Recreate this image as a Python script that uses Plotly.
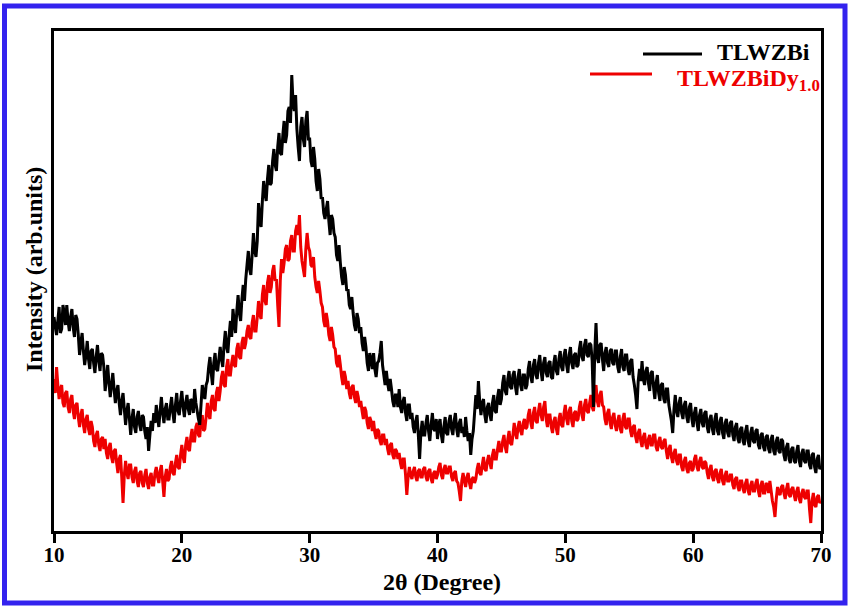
import numpy as np
import plotly.graph_objects as go

# 2-theta scan grid (degrees), 0.1 degree step from 10 to 70
two_theta = np.round(np.arange(10.0, 70.0001, 0.1), 1)

# Measured intensities (arb. units), one row per degree: x.0 ... x.9
tlwzbi = [
    214, 204, 196, 210, 224, 198, 202, 226, 218, 206,   # 10
    226, 210, 200, 214, 222, 204, 194, 216, 212, 196,   # 11
    176, 188, 198, 180, 166, 176, 190, 172, 162, 180,   # 12
    182, 168, 158, 174, 186, 170, 160, 178, 176, 164,   # 13
    140, 152, 166, 148, 134, 146, 158, 142, 128, 140,   # 14
    146, 128, 116, 130, 138, 122, 106, 120, 128, 112,   # 15
    96, 112, 122, 104, 98, 114, 120, 106, 100, 116,     # 16
    114, 100, 92, 104, 80, 96, 110, 100, 118, 108,      # 17
    126, 114, 104, 120, 134, 118, 108, 122, 128, 112,   # 18
    112, 124, 134, 118, 108, 126, 138, 120, 116, 130,   # 19
    140, 124, 114, 128, 136, 122, 116, 132, 130, 118,   # 20
    142, 128, 120, 112, 106, 126, 146, 138, 132, 146,   # 21
    150, 164, 174, 158, 146, 168, 178, 162, 160, 172,   # 22
    184, 172, 164, 186, 200, 184, 178, 196, 210, 194,   # 23
    222, 208, 198, 220, 236, 218, 210, 232, 246, 230,   # 24
    252, 266, 280, 262, 256, 276, 298, 280, 274, 290,   # 25
    328, 312, 304, 330, 350, 338, 330, 352, 366, 346,   # 26
    348, 370, 382, 366, 360, 384, 398, 378, 376, 396,   # 27
    410, 388, 396, 420, 424, 408, 456, 428, 420, 436,   # 28
    402, 384, 370, 404, 414, 392, 384, 410, 420, 392,   # 29
    392, 370, 364, 384, 372, 350, 340, 362, 352, 332,   # 30
    334, 318, 312, 322, 330, 310, 296, 316, 312, 298,   # 31
    294, 276, 270, 286, 268, 254, 246, 264, 256, 240,   # 32
    242, 226, 222, 234, 218, 206, 200, 218, 212, 198,   # 33
    204, 188, 180, 194, 184, 168, 160, 178, 172, 162,   # 34
    178, 162, 154, 168, 170, 178, 190, 166, 156, 146,   # 35
    160, 148, 140, 152, 142, 130, 124, 136, 136, 124,   # 36
    142, 124, 118, 130, 134, 118, 110, 126, 126, 112,   # 37
    118, 104, 98, 110, 116, 96, 72, 98, 110, 96,        # 38
    96, 108, 116, 100, 90, 106, 118, 102, 100, 112,     # 39
    92, 106, 112, 96, 88, 104, 114, 98, 96, 110,        # 40
    116, 102, 96, 110, 118, 102, 94, 108, 112, 98,      # 41
    104, 94, 114, 100, 90, 98, 76, 92, 100, 118,        # 42
    136, 122, 150, 130, 116, 128, 132, 116, 108, 124,   # 43
    128, 116, 110, 128, 136, 120, 118, 134, 142, 126,   # 44
    132, 148, 156, 140, 136, 152, 160, 144, 142, 156,   # 45
    160, 144, 136, 154, 162, 146, 140, 156, 156, 142,   # 46
    146, 162, 170, 154, 148, 166, 172, 156, 152, 168,   # 47
    176, 160, 150, 168, 174, 158, 154, 168, 170, 154,   # 48
    152, 168, 176, 160, 156, 172, 180, 164, 160, 176,   # 49
    182, 166, 158, 176, 184, 168, 162, 176, 178, 164,   # 50
    166, 182, 190, 174, 170, 186, 192, 176, 174, 188,   # 51
    186, 170, 124, 178, 208, 174, 168, 186, 188, 172,   # 52
    160, 178, 184, 168, 164, 180, 182, 168, 166, 180,   # 53
    180, 164, 158, 174, 182, 164, 160, 176, 176, 162,   # 54
    156, 170, 172, 154, 146, 136, 122, 150, 162, 150,   # 55
    170, 152, 146, 160, 164, 148, 140, 158, 160, 144,   # 56
    132, 148, 156, 138, 130, 146, 148, 132, 128, 142,   # 57
    142, 126, 118, 110, 98, 122, 136, 120, 114, 128,    # 58
    134, 118, 112, 126, 130, 114, 108, 124, 128, 112,   # 59
    104, 118, 124, 108, 100, 116, 122, 108, 104, 118,   # 60
    120, 104, 98, 112, 116, 102, 96, 112, 118, 100,     # 61
    96, 110, 114, 98, 92, 108, 112, 98, 94, 108,        # 62
    110, 96, 90, 104, 108, 92, 88, 102, 104, 90,        # 63
    86, 100, 106, 90, 84, 98, 104, 90, 88, 100,         # 64
    102, 86, 82, 96, 98, 84, 80, 94, 96, 82,            # 65
    78, 92, 96, 80, 76, 90, 94, 80, 78, 92,             # 66
    90, 76, 70, 84, 88, 72, 68, 82, 84, 70,             # 67
    68, 80, 86, 70, 64, 78, 82, 70, 68, 80,             # 68
    80, 66, 62, 76, 78, 64, 58, 72, 76, 62,             # 69
    64,                                                 # 70
]

tlwzbidy = [
    152, 138, 164, 146, 132, 142, 146, 128, 124, 138,   # 10
    140, 124, 118, 132, 136, 120, 112, 126, 128, 114,   # 11
    104, 116, 122, 106, 98, 112, 116, 102, 96, 110,     # 12
    104, 90, 84, 96, 100, 86, 80, 92, 94, 82,           # 13
    92, 78, 72, 84, 88, 74, 68, 80, 82, 68,             # 14
    58, 72, 76, 54, 28, 56, 70, 58, 52, 66,             # 15
    66, 54, 48, 60, 64, 50, 44, 58, 60, 48,             # 16
    44, 56, 62, 48, 42, 54, 58, 46, 46, 58,             # 17
    64, 54, 48, 60, 66, 50, 34, 54, 62, 50,             # 18
    52, 64, 70, 58, 56, 68, 76, 64, 62, 76,             # 19
    86, 74, 68, 86, 94, 82, 80, 94, 102, 90,            # 20
    90, 104, 108, 96, 94, 110, 116, 100, 102, 114,      # 21
    128, 116, 112, 130, 136, 122, 120, 138, 144, 130,   # 22
    140, 154, 160, 146, 144, 164, 172, 156, 156, 168,   # 23
    176, 166, 164, 182, 188, 174, 172, 188, 194, 182,   # 24
    188, 200, 206, 194, 192, 208, 216, 200, 200, 214,   # 25
    230, 216, 212, 236, 246, 230, 226, 248, 256, 238,   # 26
    244, 260, 266, 250, 252, 226, 204, 250, 272, 258,   # 27
    268, 282, 286, 270, 272, 290, 296, 280, 280, 300,   # 28
    306, 296, 316, 284, 270, 262, 254, 282, 298, 284,   # 29
    280, 266, 264, 274, 254, 244, 238, 250, 240, 228,   # 30
    224, 210, 204, 218, 210, 196, 190, 204, 196, 184,   # 31
    182, 168, 164, 176, 166, 154, 146, 160, 154, 142,   # 32
    150, 138, 132, 144, 146, 134, 128, 140, 134, 124,   # 33
    130, 120, 112, 124, 120, 108, 102, 114, 110, 100,   # 34
    110, 98, 92, 102, 100, 90, 86, 96, 96, 86,          # 35
    92, 82, 76, 86, 88, 76, 72, 82, 80, 72,             # 36
    78, 68, 62, 72, 72, 56, 36, 54, 64, 56,             # 37
    52, 60, 64, 54, 50, 60, 62, 54, 54, 62,             # 38
    64, 54, 50, 60, 62, 52, 48, 58, 60, 52,             # 39
    56, 64, 68, 56, 52, 62, 66, 58, 58, 64,             # 40
    64, 54, 50, 58, 60, 50, 48, 40, 30, 50,             # 41
    58, 50, 44, 54, 58, 48, 42, 52, 54, 48,             # 42
    52, 62, 68, 58, 56, 66, 74, 62, 60, 70,             # 43
    76, 68, 62, 76, 82, 72, 72, 82, 90, 80,             # 44
    80, 90, 96, 84, 78, 92, 100, 88, 86, 96,            # 45
    108, 98, 92, 104, 110, 100, 96, 108, 112, 102,      # 46
    104, 116, 122, 108, 102, 118, 124, 110, 108, 120,   # 47
    128, 116, 110, 124, 130, 112, 104, 116, 116, 104,   # 48
    98, 110, 114, 102, 96, 112, 118, 106, 104, 118,     # 49
    126, 112, 106, 120, 124, 110, 104, 118, 120, 110,   # 50
    112, 124, 130, 116, 110, 126, 132, 120, 118, 128,   # 51
    136, 124, 120, 134, 146, 130, 124, 136, 140, 126,   # 52
    124, 112, 106, 118, 122, 108, 102, 114, 118, 106,   # 53
    100, 110, 116, 102, 98, 112, 118, 104, 102, 112,    # 54
    112, 100, 94, 104, 106, 94, 88, 98, 102, 90,        # 55
    84, 94, 98, 86, 82, 92, 96, 86, 86, 96,             # 56
    96, 84, 80, 90, 94, 84, 82, 90, 92, 80,             # 57
    72, 82, 86, 74, 68, 78, 82, 70, 66, 76,             # 58
    76, 64, 60, 70, 74, 62, 58, 68, 70, 60,             # 59
    62, 72, 76, 64, 60, 70, 74, 64, 62, 70,             # 60
    68, 58, 52, 62, 66, 54, 50, 60, 62, 52,             # 61
    48, 58, 62, 50, 46, 56, 60, 50, 50, 56,             # 62
    56, 46, 42, 52, 54, 44, 40, 50, 50, 42,             # 63
    38, 48, 52, 40, 36, 46, 50, 40, 40, 48,             # 64
    52, 40, 34, 46, 50, 38, 38, 48, 46, 38,             # 65
    50, 40, 30, 24, 14, 32, 44, 38, 36, 44,             # 66
    46, 38, 32, 42, 48, 36, 34, 42, 44, 36,             # 67
    30, 40, 44, 32, 28, 38, 42, 34, 32, 40,             # 68
    40, 22, 8, 30, 38, 26, 24, 34, 36, 28,              # 69
    30,                                                 # 70
]

assert len(tlwzbi) == len(two_theta) == len(tlwzbidy)

x_ticks = [10, 20, 30, 40, 50, 60, 70]
series_names = ["TLWZBi", "TLWZBiDy<sub>1.0</sub>"]
series_colors = ["#000000", "#ee0000"]

W, H = 849, 612
L, R, T, B = 54, 28, 31, 81          # plot-area margins in px
PW, PH = W - L - R, H - T - B


def px_to_paper(px, py):
    return (px - L) / PW, (H - B - py) / PH


SERIF = "Liberation Serif"

fig = go.Figure()
# red first so the black trace sits on top where they overlap;
# simplify is off so every noisy sample is kept
fig.add_trace(go.Scatter(x=two_theta, y=tlwzbidy, mode="lines",
                         line=dict(color=series_colors[1], width=3, simplify=False),
                         name=series_names[1], showlegend=False))
fig.add_trace(go.Scatter(x=two_theta, y=tlwzbi, mode="lines",
                         line=dict(color=series_colors[0], width=3, simplify=False),
                         name=series_names[0], showlegend=False))

axis_font = dict(family=SERIF, size=21, color="black", weight="bold")
fig.update_xaxes(range=[10, 70], tickvals=x_ticks, ticks="outside", ticklen=9,
                 tickwidth=2.5, tickcolor="black", tickfont=axis_font,
                 ticklabelstandoff=-6,
                 showline=True, linewidth=2.5, linecolor="black", mirror=True,
                 showgrid=False, zeroline=False)
fig.update_yaxes(range=[0, 500], showticklabels=False, ticks="",
                 showline=True, linewidth=2.5, linecolor="black", mirror=True,
                 showgrid=False, zeroline=False)

annotations = []
# axis titles
ax, ay = px_to_paper(442, 582)
annotations.append(dict(x=ax, y=ay, xref="paper", yref="paper", showarrow=False,
                        text="2θ (Degree)", xanchor="center", yanchor="middle",
                        font=dict(family=SERIF, size=24, color="black", weight="bold")))
ax, ay = px_to_paper(34, 270)
annotations.append(dict(x=ax, y=ay, xref="paper", yref="paper", showarrow=False,
                        text="Intensity (arb.units)", textangle=-90,
                        xanchor="center", yanchor="middle",
                        font=dict(family=SERIF, size=24, color="black", weight="bold")))

# legend: sample line + label, right aligned inside the frame
shapes = []
legend_rows = [
    # name, colour, line x0, line x1, line y, text right edge, text y
    (series_names[0], series_colors[0], 643, 702, 54, 812, 52),
    (series_names[1], series_colors[1], 590, 652, 74, 822, 80),
]
for name, color, lx0, lx1, ly, tx, ty in legend_rows:
    x0, y0 = px_to_paper(lx0, ly)
    x1, _ = px_to_paper(lx1, ly)
    shapes.append(dict(type="line", xref="paper", yref="paper", x0=x0, x1=x1,
                       y0=y0, y1=y0, line=dict(color=color, width=3)))
    tx_p, ty_p = px_to_paper(tx, ty)
    annotations.append(dict(x=tx_p, y=ty_p, xref="paper", yref="paper", showarrow=False,
                            text=name, xanchor="right", yanchor="middle",
                            font=dict(family=SERIF, size=24, color=color, weight="bold")))

# blue outer border
bx0, by0 = px_to_paper(4.5, 6)
bx1, by1 = px_to_paper(845, 603)
shapes.append(dict(type="rect", xref="paper", yref="paper", x0=bx0, y0=by0, x1=bx1, y1=by1,
                   line=dict(color="#3322ee", width=5), fillcolor="rgba(0,0,0,0)"))

fig.update_layout(width=W, height=H, margin=dict(l=L, r=R, t=T, b=B),
                  paper_bgcolor="white", plot_bgcolor="white",
                  annotations=annotations, shapes=shapes, showlegend=False)

fig.write_html("out.html")
